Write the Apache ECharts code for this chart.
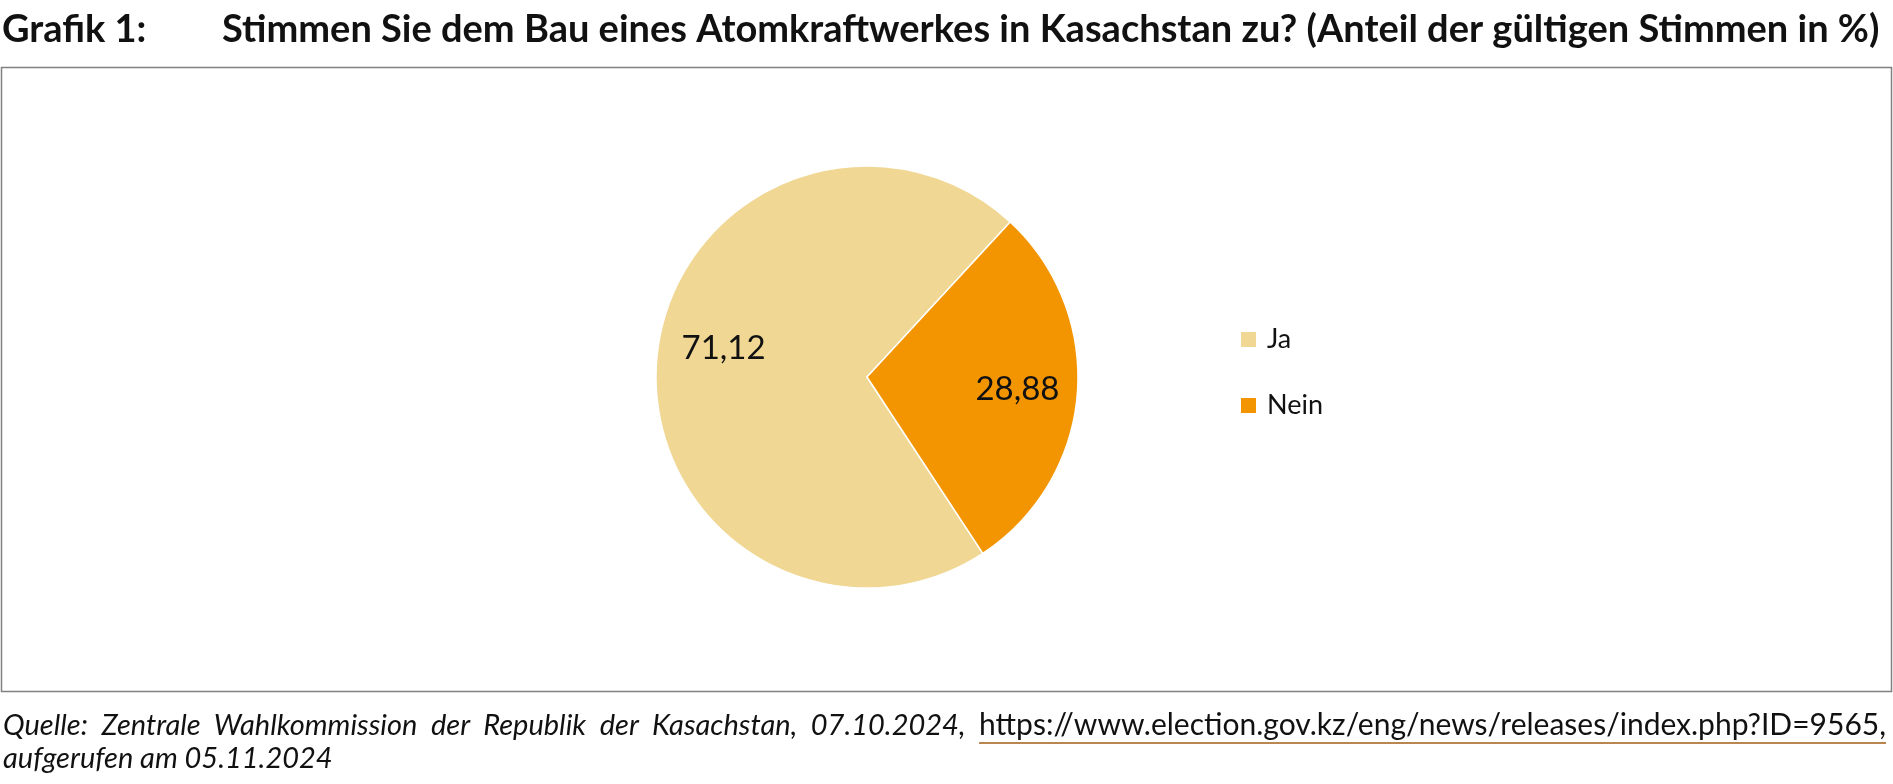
<!DOCTYPE html>
<html>
<head>
<meta charset="utf-8">
<script src="https://cdn.jsdelivr.net/npm/echarts@6/dist/echarts.min.js"></script>
<style>
  html, body { margin: 0; padding: 0; background: #fff; }
  #chart { position: absolute; left: 0; top: 0; width: 1893px; height: 784px; }
  .foot { position: absolute; left: 3px; width: 1883px; font-family: Lato, sans-serif; font-size: 29px; line-height: 33px; color: #111; font-style: italic; white-space: nowrap; }
  #f1 { top: 707px; text-align: justify; text-align-last: justify; }
  #f2 { top: 740px; }
  .link { font-style: normal; font-size: 30px; text-decoration: underline; text-decoration-color: #B8864E; text-decoration-thickness: 2px; text-underline-offset: 7px; }
</style>
</head>
<body>
<div id="chart"></div>
<div class="foot" id="f1">Quelle: Zentrale Wahlkommission der Republik der Kasachstan, 07.10.2024, <span class="link">https://www.election.gov.kz/eng/news/releases/index.php?ID=9565,</span></div>
<div class="foot" id="f2">aufgerufen am 05.11.2024</div>
<script>
const categories = ['Ja', 'Nein'];
const values = [71.12, 28.88];
const colors = ['#F0D794', '#F39500'];
const titleLabel = 'Grafik 1:';
const titleText = 'Stimmen Sie dem Bau eines Atomkraftwerkes in Kasachstan zu? (Anteil der gültigen Stimmen in %)';

const pieData = categories.map((c, i) => ({ name: c, value: values[i], itemStyle: { color: colors[i] } }));
// label nudge for the large slice (best-fit placement in the original)
const labelData = categories.map((c, i) => {
  const d = { name: c, value: values[i] };
  if (i === 0) d.label = { offset: [7, -16] };
  return d;
});
const fmt = p => p.value.toFixed(2).replace('.', ',');

const chart = echarts.init(document.getElementById('chart'));
chart.setOption({
  animation: false,
  title: [
    { text: titleLabel, left: 2, top: 11, padding: 0, textStyle: { fontFamily: 'Lato', fontWeight: 'bold', fontSize: 38, color: '#111' } },
    { text: titleText, left: 222, top: 11, padding: 0, textStyle: { fontFamily: 'Lato', fontWeight: 'bold', fontSize: 38, color: '#111' } }
  ],
  graphic: [
    { type: 'rect', shape: { x: 1.5, y: 67.5, width: 1890, height: 624 }, style: { fill: 'none', stroke: '#808080', lineWidth: 1.5 }, silent: true }
  ],
  legend: {
    orient: 'vertical',
    left: 1239,
    top: 326,
    padding: 0,
    icon: 'rect',
    itemWidth: 17,
    itemHeight: 17,
    itemGap: 39,
    data: categories,
    selectedMode: false,
    textStyle: { fontFamily: 'Lato', fontSize: 27, color: '#111', padding: [0, 0, 0, 5] }
  },
  series: [
    {
      type: 'pie',
      z: 2,
      center: [867, 377],
      radius: [0, 211],
      startAngle: -56.7,
      clockwise: true,
      data: pieData,
      label: { show: false },
      labelLine: { show: false },
      itemStyle: { borderColor: '#fff', borderWidth: 1.5 },
      emphasis: { disabled: true },
      silent: true
    },
    {
      type: 'pie',
      z: 3,
      center: [867, 377],
      radius: [85, 211],
      startAngle: -56.7,
      clockwise: true,
      data: labelData,
      itemStyle: { color: '#fff', opacity: 0, borderWidth: 0 },
      label: { show: true, position: 'inside', formatter: fmt, fontFamily: 'Lato', fontSize: 33, color: '#111', opacity: 1 },
      labelLine: { show: false },
      emphasis: { disabled: true },
      silent: true,
      legendHoverLink: false
    }
  ]
});
</script>
</body>
</html>
